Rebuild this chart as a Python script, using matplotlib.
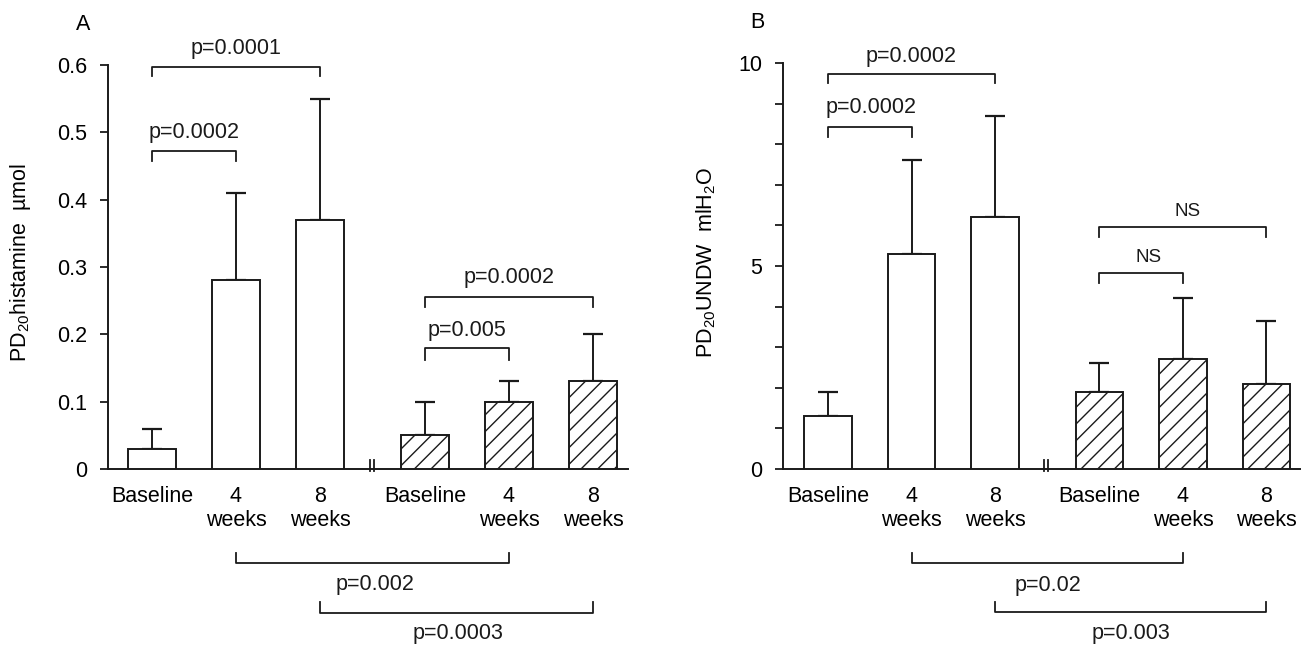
import numpy as np
import matplotlib
matplotlib.use("Agg")
import matplotlib.pyplot as plt

plt.rcParams['font.family'] = ['Liberation Sans', 'DejaVu Sans']
plt.rcParams['mathtext.default'] = 'regular'
plt.rcParams['hatch.linewidth'] = 1.0

# data
labels = ["Baseline", "4\nweeks", "8\nweeks", "Baseline", "4\nweeks", "8\nweeks"]
pos = [0, 1, 2, 3.25, 4.25, 5.25]

hist_open = [0.03, 0.28, 0.37]
hist_open_sd = [0.03, 0.13, 0.18]
hist_hatch = [0.05, 0.10, 0.13]
hist_hatch_sd = [0.05, 0.03, 0.07]

undw_open = [1.3, 5.3, 6.2]
undw_open_sd = [0.6, 2.3, 2.5]
undw_hatch = [1.9, 2.7, 2.1]
undw_hatch_sd = [0.7, 1.5, 1.55]

INK = '#1a1a1a'
FS = 15.5


def draw_bars(ax, vals_open, sd_open, vals_hatch, sd_hatch, width):
    vals = list(vals_open) + list(vals_hatch)
    sds = list(sd_open) + list(sd_hatch)
    hatches = ['', '', '', '//', '//', '//']
    for x, v, h in zip(pos, vals, hatches):
        ax.bar(x, v, width=width, color='white', edgecolor=INK, linewidth=1.4,
               hatch=h, zorder=3)
    ax.errorbar(pos, vals, yerr=[np.zeros(len(sds)), sds], fmt='none',
                ecolor=INK, elinewidth=1.4, capsize=7, capthick=1.6, zorder=2)


def bracket(ax, x1, x2, y, tick, text, tx, ty, fs=FS):
    ax.plot([x1, x1, x2, x2], [y - tick, y, y, y - tick], color=INK,
            linewidth=1.3, clip_on=False)
    ax.text(tx, ty, text, ha='center', va='center', fontsize=fs, color=INK)


def style(ax, xlim, ylim):
    ax.set_xlim(*xlim)
    ax.set_ylim(*ylim)
    for s in ['top', 'right']:
        ax.spines[s].set_visible(False)
    ax.spines['left'].set_bounds(ylim[0], ylim[1])
    ax.spines['left'].set_linewidth(1.4)
    ax.spines['bottom'].set_linewidth(1.4)
    ax.spines['left'].set_color(INK)
    ax.spines['bottom'].set_color(INK)
    ax.set_xticks(pos)
    ax.set_xticklabels(labels, linespacing=1.2)
    ax.tick_params(axis='x', length=0, pad=12, labelsize=FS)
    ax.tick_params(axis='y', which='both', length=6, width=1.3, pad=9,
                   labelsize=FS, color=INK)


def break_marks(ax, x):
    trans = ax.get_xaxis_transform()
    for dx in (-0.025, 0.025):
        ax.plot([x + dx, x + dx], [-0.004, 0.022], transform=trans, color=INK,
                linewidth=1.3, clip_on=False)


fig = plt.figure(figsize=(13.04, 6.46), dpi=100)

# panel A
axA = fig.add_axes([0.0828, 0.274, 0.3988, 0.6254])
draw_bars(axA, hist_open, hist_open_sd, hist_hatch, hist_hatch_sd, 0.565)
style(axA, (-0.524, 5.667), (0, 0.6))
axA.set_yticks([0, 0.1, 0.2, 0.3, 0.4, 0.5, 0.6])
axA.set_yticklabels(["0", "0.1", "0.2", "0.3", "0.4", "0.5", "0.6"])
axA.set_ylabel(r"PD$_{20}$histamine  µmol", fontsize=FS)
axA.yaxis.set_label_coords(-0.145, 0.512)
break_marks(axA, 2.62)

bracket(axA, 0, 2, 0.597, 0.013, "p=0.0001", 1.0, 0.624)
bracket(axA, 0, 1, 0.473, 0.016, "p=0.0002", 0.5, 0.50)
bracket(axA, 3.25, 5.25, 0.256, 0.015, "p=0.0002", 4.25, 0.284)
bracket(axA, 3.25, 4.25, 0.179, 0.017, "p=0.005", 3.75, 0.205)
bracket(axA, 1, 4.25, -0.140, -0.015, "p=0.002", 2.65, -0.172)
bracket(axA, 2, 5.25, -0.214, -0.016, "p=0.0003", 3.64, -0.244)

fig.text(83 / 1304, 1 - 25 / 646, "A", ha='center', va='center', fontsize=FS)

# panel B
axB = fig.add_axes([0.6005, 0.274, 0.3965, 0.6285])
draw_bars(axB, undw_open, undw_open_sd, undw_hatch, undw_hatch_sd, 0.57)
style(axB, (-0.539, 5.653), (0, 10))
axB.set_yticks([0, 5, 10])
axB.set_yticklabels(["0", "5", "10"])
axB.set_yticks(np.arange(0, 11, 1), minor=True)
axB.set_ylabel(r"PD$_{20}$UNDW  mlH$_2$O", fontsize=FS)
axB.yaxis.set_label_coords(-0.126, 0.51)
break_marks(axB, 2.61)

bracket(axB, 0, 2, 9.73, 0.23, "p=0.0002", 1.0, 10.17)
bracket(axB, 0, 1, 8.42, 0.24, "p=0.0002", 0.52, 8.9)
bracket(axB, 3.25, 5.25, 5.96, 0.25, "NS", 4.3, 6.35, fs=13.5)
bracket(axB, 3.25, 4.25, 4.83, 0.25, "NS", 3.84, 5.22, fs=13.5)
bracket(axB, 1, 4.25, -2.32, -0.25, "p=0.02", 2.63, -2.86)
bracket(axB, 2, 5.25, -3.52, -0.24, "p=0.003", 3.63, -4.04)

fig.text(757 / 1304, 1 - 23 / 646, "B", ha='center', va='center', fontsize=FS)

fig.savefig("out.png", dpi=100)
